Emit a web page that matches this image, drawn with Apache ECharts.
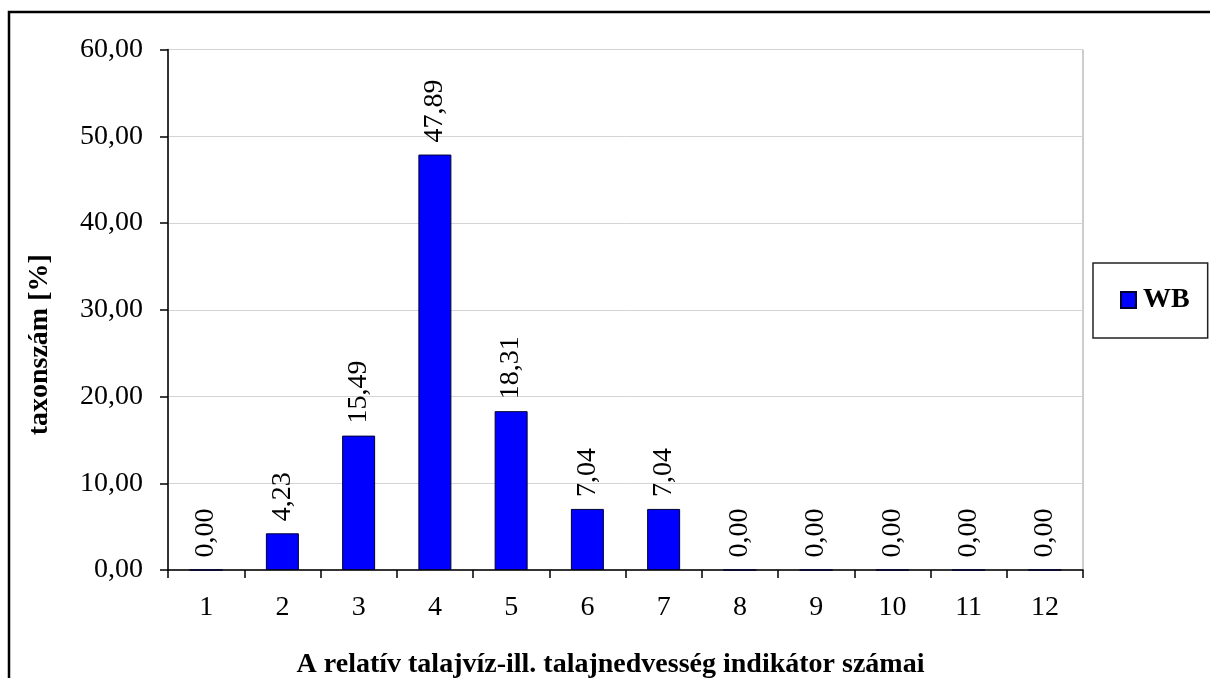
<!DOCTYPE html>
<html>
<head>
<meta charset="utf-8">
<script src="https://cdn.jsdelivr.net/npm/echarts@6/dist/echarts.min.js"></script>
<style>
  html, body { margin: 0; padding: 0; background: #ffffff; }
  #chart { width: 1210px; height: 678px; }
</style>
</head>
<body>
<div id="chart"></div>
<script>
// Indicator numbers along the x axis
const categories = ['1', '2', '3', '4', '5', '6', '7', '8', '9', '10', '11', '12'];
// Share of taxa per indicator value [%]
const wbValues = [0.00, 4.23, 15.49, 47.89, 18.31, 7.04, 7.04, 0.00, 0.00, 0.00, 0.00, 0.00];
// Value axis range and step
const yMin = 0;
const yMax = 60;
const yStep = 10;

const serif = "'Liberation Serif', 'Times New Roman', serif";
const fmt = v => Number(v).toFixed(2).replace('.', ',');

const chart = echarts.init(document.getElementById('chart'), null, { renderer: 'canvas' });

chart.setOption({
  backgroundColor: '#ffffff',
  animation: false,
  graphic: [{
    type: 'rect',
    silent: true,
    shape: { x: 9, y: 12, width: 1400, height: 1000 },
    style: { fill: 'none', stroke: '#000000', lineWidth: 2.5 },
    z: 100
  }],
  grid: {
    left: 168, right: 127, top: 49.5, bottom: 108,
    show: true,
    borderColor: '#9a9a9a',
    borderWidth: 1,
    containLabel: false,
    outerBoundsMode: 'none'
  },
  legend: {
    left: 1093,
    top: 263,
    orient: 'vertical',
    backgroundColor: '#ffffff',
    borderColor: '#222222',
    borderWidth: 1.5,
    borderRadius: 0,
    padding: [23, 18, 24, 27],
    icon: 'rect',
    itemWidth: 15,
    itemHeight: 16,
    itemGap: 4,
    textStyle: { fontFamily: serif, fontSize: 28, fontWeight: 'bold', color: '#000000', padding: [0, 0, 0, 2] },
    data: ['WB']
  },
  xAxis: {
    type: 'category',
    data: categories,
    boundaryGap: true,
    name: 'A relatív talajvíz-ill. talajnedvesség indikátor számai',
    nameLocation: 'middle',
    nameGap: 81,
    nameTextStyle: { fontFamily: serif, fontSize: 28, fontWeight: 'bold', color: '#000000', padding: [0, 30, 0, 0] },
    axisLine: { show: true, lineStyle: { color: '#000000', width: 1.5 } },
    axisTick: { show: true, length: 8, inside: false, lineStyle: { color: '#000000', width: 1.5 } },
    axisLabel: { fontFamily: serif, fontSize: 28, color: '#000000', margin: 24 },
    splitLine: { show: false }
  },
  yAxis: {
    type: 'value',
    min: yMin,
    max: yMax,
    interval: yStep,
    name: 'taxonszám [%]',
    nameLocation: 'middle',
    nameGap: 114,
    nameRotate: 90,
    nameTextStyle: { fontFamily: serif, fontSize: 28, fontWeight: 'bold', color: '#000000', padding: [0, 70, 0, 0] },
    axisLine: { show: true, lineStyle: { color: '#000000', width: 1.5 } },
    axisTick: { show: true, length: 8, inside: false, lineStyle: { color: '#000000', width: 1.5 } },
    axisLabel: { fontFamily: serif, fontSize: 28, color: '#000000', margin: 25, formatter: fmt },
    splitLine: { show: true, lineStyle: { color: '#d4d4d4', width: 1 } }
  },
  series: [{
    name: 'WB',
    type: 'bar',
    data: wbValues,
    barWidth: 33,
    itemStyle: { color: '#0000ff', borderColor: '#000033', borderWidth: 1 },
    label: {
      show: true,
      position: 'top',
      rotate: 90,
      align: 'left',
      verticalAlign: 'middle',
      distance: 12,
      fontFamily: serif,
      fontSize: 28,
      color: '#000000',
      formatter: p => fmt(p.value)
    }
  }]
});
</script>
</body>
</html>
